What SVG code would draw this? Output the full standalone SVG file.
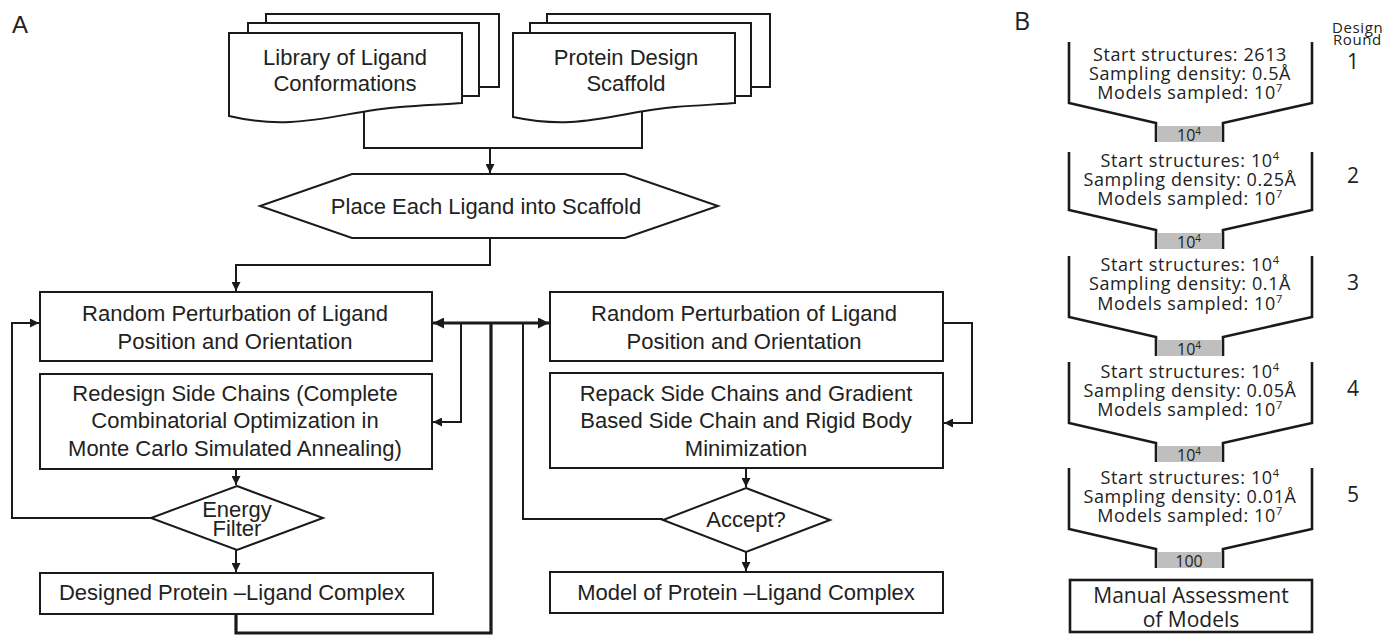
<svg xmlns="http://www.w3.org/2000/svg" width="1389" height="636" viewBox="0 0 1389 636">
<style>
.a{font-family:"Liberation Sans",Arial,sans-serif;font-size:22px;fill:#222;text-anchor:middle}
.b{font-family:"Open Sans","Noto Sans",sans-serif;fill:#222;text-anchor:middle}
.f{font-size:18px;letter-spacing:0.6px}
.n{font-size:21px}
.g{font-size:16px}
.shape{fill:#fff;stroke:#1a1a1a;stroke-width:2}
.ln{fill:none;stroke:#1a1a1a;stroke-width:2}
.thick{fill:none;stroke:#1a1a1a;stroke-width:3.2}
.fun{fill:none;stroke:#1a1a1a;stroke-width:2.6}
.gray{fill:#bfbfbf}
</style>
<defs>
<marker id="arr" viewBox="0 0 10 10" refX="10" refY="5" markerWidth="9" markerHeight="9" markerUnits="userSpaceOnUse" orient="auto"><path d="M0,0 L10,5 L0,10 z" fill="#1a1a1a"/></marker>
<marker id="arrT" viewBox="0 0 10 10" refX="10" refY="5" markerWidth="11" markerHeight="11" markerUnits="userSpaceOnUse" orient="auto"><path d="M0,0 L10,5 L0,10 z" fill="#1a1a1a"/></marker>
</defs>
<rect width="1389" height="636" fill="#fff"/>

<text x="12" y="33" style="font-family:'Liberation Sans',Arial,sans-serif;font-size:24px;fill:#222">A</text>
<text x="1014" y="30" style="font-family:'Open Sans',sans-serif;font-size:25px;fill:#222">B</text>

<g id="connectors">
<path class="ln" d="M364,112 V148 H642 V107"/>
<path class="ln" d="M490,148 V173" marker-end="url(#arr)"/>
<path class="ln" d="M490,238 V265 H236 V291" marker-end="url(#arr)"/>
<path class="ln" d="M236,469 V485" marker-end="url(#arr)"/>
<path class="ln" d="M236,550 V572" marker-end="url(#arr)"/>
<path class="ln" d="M151,518 H12 V323 H39" marker-end="url(#arr)"/>
<path class="thick" d="M236,614 V633 H491 V323"/>
<path class="thick" d="M491,323 H433" marker-end="url(#arrT)"/>
<path class="thick" d="M491,323 H549" marker-end="url(#arrT)"/>
<path class="ln" d="M461,323 V422 H433" marker-end="url(#arr)"/>
<path class="ln" d="M523,323 V519 H663"/>
<path class="ln" d="M943,323 H972 V423 H944" marker-end="url(#arr)"/>
<path class="ln" d="M746,468 V487" marker-end="url(#arr)"/>
<path class="ln" d="M746,552 V571" marker-end="url(#arr)"/>
</g>

<g id="library">
<rect class="shape" x="266" y="14" width="233" height="73"/>
<rect class="shape" x="248" y="23" width="231" height="73"/>
<path class="shape" d="M229,33 H462 V103 C450,104 430,105 400,107 C360,110 330,120 290,122 C268,123 250,121 229,116 Z"/>
<text class="a" x="345" y="65">Library of Ligand</text>
<text class="a" x="345" y="91">Conformations</text>
</g>

<g id="scaffold">
<rect class="shape" x="547" y="14" width="223" height="73"/>
<rect class="shape" x="530" y="23" width="221" height="73"/>
<path class="shape" d="M513,33 H735 V103 C723,104 703,105 675,107 C638,110 608,120 570,122 C549,123 532,121 513,117 Z"/>
<text class="a" x="626" y="65">Protein Design</text>
<text class="a" x="626" y="91">Scaffold</text>
</g>

<g id="place">
<path class="shape" d="M352,174 H625 L718,206 L625,238 H352 L260,206 Z"/>
<text class="a" x="486" y="214">Place Each Ligand into Scaffold</text>
</g>

<g id="perturb-left">
<rect class="shape" x="40" y="292" width="392" height="69"/>
<text class="a" x="235" y="321">Random Perturbation of Ligand</text>
<text class="a" x="235" y="349">Position and Orientation</text>
</g>

<g id="redesign">
<rect class="shape" x="40" y="374" width="392" height="95"/>
<text class="a" x="235" y="401">Redesign Side Chains (Complete</text>
<text class="a" x="235" y="428">Combinatorial Optimization in</text>
<text class="a" x="235" y="456">Monte Carlo Simulated Annealing)</text>
</g>

<g id="energy">
<path class="shape" d="M237,486 L323,518 L237,550 L151,518 Z"/>
<text class="a" x="237" y="517">Energy</text>
<text class="a" x="237" y="536">Filter</text>
</g>

<g id="designed">
<rect class="shape" x="40" y="573" width="393" height="41"/>
<text class="a" x="232" y="600">Designed Protein –Ligand Complex</text>
</g>

<g id="perturb-right">
<rect class="shape" x="550" y="292" width="393" height="69"/>
<text class="a" x="744" y="321">Random Perturbation of Ligand</text>
<text class="a" x="744" y="349">Position and Orientation</text>
</g>

<g id="repack">
<rect class="shape" x="550" y="373" width="393" height="95"/>
<text class="a" x="746" y="401">Repack Side Chains and Gradient</text>
<text class="a" x="746" y="428">Based Side Chain and Rigid Body</text>
<text class="a" x="746" y="456">Minimization</text>
</g>

<g id="accept">
<path class="shape" d="M746,488 L830,520 L746,552 L663,520 Z"/>
<text class="a" x="746" y="527">Accept?</text>
</g>

<g id="model">
<rect class="shape" x="550" y="572" width="393" height="41"/>
<text class="a" x="746" y="600">Model of Protein –Ligand Complex</text>
</g>

<g id="round-label">
<text class="b" x="1332" y="33" style="font-size:15px;letter-spacing:0.6px;text-anchor:start">Design</text>
<text class="b" x="1333" y="45" style="font-size:15px;letter-spacing:0.6px;text-anchor:start">Round</text>
</g>

<g id="round1">
<path class="fun" d="M1069,42 V103 L1156,123 V142 M1312,42 V103 L1223,123 V142"/>
<rect class="gray" x="1157" y="126" width="65" height="16"/>
<text class="b f" x="1190" y="61">Start structures: 2613</text>
<text class="b f" x="1190" y="80">Sampling density: 0.5Å</text>
<text class="b f" x="1190" y="99">Models sampled: 10<tspan dy="-7" style="font-size:11px">7</tspan></text>
<text class="b n" x="1353" y="69">1</text>
<text class="b g" x="1189" y="141">10<tspan dy="-6" style="font-size:10px">4</tspan></text>
</g>

<g id="round2">
<path class="fun" d="M1069,152 V210 L1156,230 V249 M1312,152 V210 L1223,230 V249"/>
<rect class="gray" x="1157" y="233" width="65" height="16"/>
<text class="b f" x="1190" y="167">Start structures: 10<tspan dy="-7" style="font-size:11px">4</tspan></text>
<text class="b f" x="1190" y="186">Sampling density: 0.25Å</text>
<text class="b f" x="1190" y="205">Models sampled: 10<tspan dy="-7" style="font-size:11px">7</tspan></text>
<text class="b n" x="1353" y="183">2</text>
<text class="b g" x="1189" y="248">10<tspan dy="-6" style="font-size:10px">4</tspan></text>
</g>

<g id="round3">
<path class="fun" d="M1069,256 V317 L1156,337 V356 M1312,256 V317 L1223,337 V356"/>
<rect class="gray" x="1157" y="340" width="65" height="16"/>
<text class="b f" x="1190" y="271">Start structures: 10<tspan dy="-7" style="font-size:11px">4</tspan></text>
<text class="b f" x="1190" y="290">Sampling density: 0.1Å</text>
<text class="b f" x="1190" y="310">Models sampled: 10<tspan dy="-7" style="font-size:11px">7</tspan></text>
<text class="b n" x="1353" y="290">3</text>
<text class="b g" x="1189" y="355">10<tspan dy="-6" style="font-size:10px">4</tspan></text>
</g>

<g id="round4">
<path class="fun" d="M1069,362 V423 L1156,443 V462 M1312,362 V423 L1223,443 V462"/>
<rect class="gray" x="1157" y="446" width="65" height="16"/>
<text class="b f" x="1190" y="378">Start structures: 10<tspan dy="-7" style="font-size:11px">4</tspan></text>
<text class="b f" x="1190" y="397">Sampling density: 0.05Å</text>
<text class="b f" x="1190" y="416">Models sampled: 10<tspan dy="-7" style="font-size:11px">7</tspan></text>
<text class="b n" x="1353" y="396">4</text>
<text class="b g" x="1189" y="461">10<tspan dy="-6" style="font-size:10px">4</tspan></text>
</g>

<g id="round5">
<path class="fun" d="M1069,468 V529 L1156,549 V568 M1312,468 V529 L1223,549 V568"/>
<rect class="gray" x="1157" y="552" width="65" height="16"/>
<text class="b f" x="1190" y="484">Start structures: 10<tspan dy="-7" style="font-size:11px">4</tspan></text>
<text class="b f" x="1190" y="503">Sampling density: 0.01Å</text>
<text class="b f" x="1190" y="522">Models sampled: 10<tspan dy="-7" style="font-size:11px">7</tspan></text>
<text class="b n" x="1353" y="502">5</text>
<text class="b g" x="1189" y="567">100</text>
</g>

<g id="manual">
<rect class="fun" x="1070" y="580" width="242" height="52" style="fill:#fff"/>
<text class="b" x="1191" y="603" style="font-size:21px">Manual Assessment</text>
<text class="b" x="1191" y="627" style="font-size:21px">of Models</text>
</g>
</svg>
